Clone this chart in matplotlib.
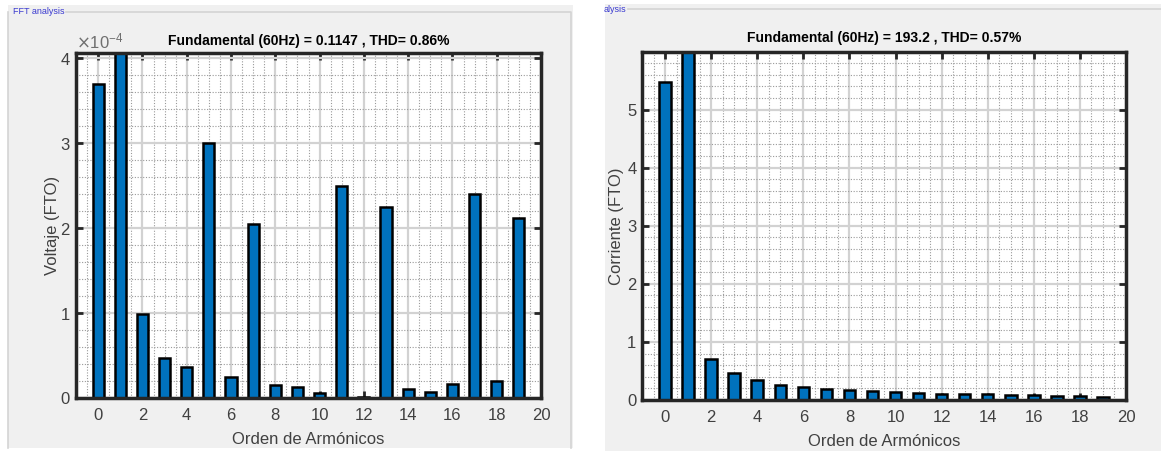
import numpy as np
import matplotlib.pyplot as plt
from matplotlib.patches import Rectangle
from matplotlib.lines import Line2D
from matplotlib.ticker import MultipleLocator, ScalarFormatter

plt.rcParams['font.family'] = ['Liberation Sans', 'DejaVu Sans']

# harmonic order
orders = list(range(20))

# voltage spectrum (V), fundamental bar runs off the top
volt = [3.70e-4, 0.1147, 0.99e-4, 0.47e-4, 0.36e-4, 3.00e-4, 0.25e-4, 2.05e-4,
        0.15e-4, 0.13e-4, 0.06e-4, 2.49e-4, 0.01e-4, 2.25e-4, 0.11e-4, 0.07e-4,
        0.16e-4, 2.40e-4, 0.20e-4, 2.12e-4]

# current spectrum (A)
curr = [5.47, 193.2, 0.70, 0.47, 0.34, 0.26, 0.23, 0.19, 0.17, 0.15,
        0.14, 0.12, 0.11, 0.11, 0.10, 0.09, 0.08, 0.07, 0.07, 0.06]

title_v = 'Fundamental (60Hz) = 0.1147 , THD= 0.86%'
title_i = 'Fundamental (60Hz) = 193.2 , THD= 0.57%'

W, H = 1161, 455
fig = plt.figure(figsize=(W / 100, H / 100), dpi=100, facecolor='white')


def px(x, y):
    return x / W, 1 - y / H


# grey GUI panels behind the two screenshots
def panel(x0, y0, x1, y1):
    fx, fy = px(x0, y1)
    fig.add_artist(Rectangle((fx, fy), (x1 - x0) / W, (y1 - y0) / H,
                             transform=fig.transFigure, facecolor='#f0f0f0',
                             edgecolor='none', zorder=0))


def fline(xs, ys, c='#d4d4d4'):
    fig.add_artist(Line2D([x / W for x in xs], [1 - y / H for y in ys],
                          transform=fig.transFigure, color=c, lw=1.2, zorder=0.5))


panel(8, 5, 573, 448)
panel(605, 4, 1161, 451)
fline([8, 8, 8], [448, 12, 12])
fline([66, 571, 571], [12, 12, 448])
fline([628, 1161], [9, 9])
fig.text(*px(13, 12), 'FFT analysis', color='#3a3ad0', fontsize=6.5, va='center')
fig.text(*px(604, 10), 'alysis', color='#3a3ad0', fontsize=6.5, va='center')

blue = '#0072BD'
txt = '#404040'


def style(ax, ymax, ymajor, yminor):
    ax.set_xlim(-1, 20)
    ax.set_ylim(0, ymax)
    ax.set_facecolor('white')
    ax.xaxis.set_major_locator(MultipleLocator(2))
    ax.xaxis.set_minor_locator(MultipleLocator(0.5))
    ax.yaxis.set_major_locator(MultipleLocator(ymajor))
    ax.yaxis.set_minor_locator(MultipleLocator(yminor))
    ax.grid(which='major', color='#d2d2d2', lw=1.6, ls='-')
    ax.grid(which='minor', color='#9a9a9a', lw=0.8, ls=(0, (1, 1.5)))
    ax.set_axisbelow(True)
    ax.tick_params(which='major', direction='in', length=5, width=2,
                   top=True, right=True, labelsize=12, colors='#262626',
                   labelcolor=txt, pad=7)
    ax.tick_params(axis='y', which='major', pad=4)
    ax.tick_params(which='minor', length=0)
    for s in ax.spines.values():
        s.set_linewidth(2.5)
        s.set_color('#262626')


# voltage panel
ax1 = fig.add_axes([76 / W, 1 - 398 / H, 465 / W, 345 / H])
ax1.bar(orders, volt, width=0.5, color=blue, edgecolor='black', lw=1.8)
style(ax1, 4.06e-4, 1e-4, 0.2e-4)
fmt = ScalarFormatter(useMathText=True)
fmt.set_powerlimits((0, 0))
ax1.yaxis.set_major_formatter(fmt)
ax1.yaxis.get_offset_text().set_fontsize(12)
ax1.yaxis.get_offset_text().set_color('#707070')
ax1.set_title(title_v, fontsize=10, fontweight='bold', pad=6)
ax1.set_xlabel('Orden de Armónicos', fontsize=12, color=txt, labelpad=7)
ax1.set_ylabel('Voltaje (FTO)', fontsize=12, color=txt, labelpad=0)

# current panel
ax2 = fig.add_axes([642 / W, 1 - 400 / H, 484 / W, 348 / H])
ax2.bar(orders, curr, width=0.5, color=blue, edgecolor='black', lw=1.8)
style(ax2, 5.99, 1, 0.2)
ax2.set_title(title_i, fontsize=10, fontweight='bold', pad=7)
ax2.set_xlabel('Orden de Armónicos', fontsize=12, color=txt, labelpad=7)
ax2.set_ylabel('Corriente (FTO)', fontsize=12, color=txt, labelpad=2)

fig.savefig('out.png', dpi=100, facecolor='white')
